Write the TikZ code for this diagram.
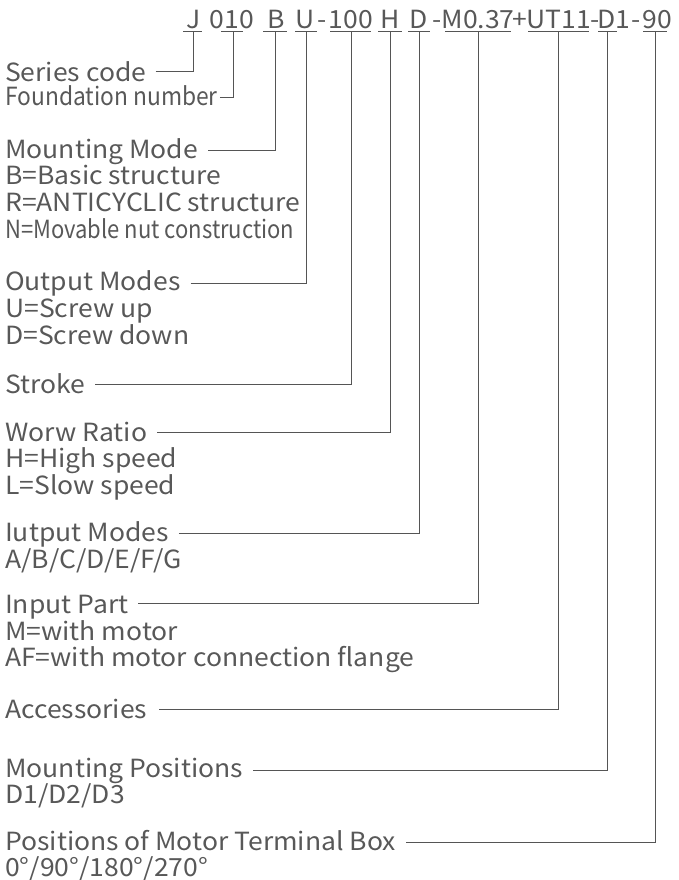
\documentclass[tikz,border=0pt]{standalone}
\usepackage{fontspec}
\setmainfont{Noto Sans CJK SC}[FakeStretch=1.06]
\newfontfamily\condA{Noto Sans CJK SC}[FakeStretch=0.912]
\newfontfamily\condB{Noto Sans CJK SC}[FakeStretch=0.88]
\definecolor{txtc}{RGB}{88,88,88}
\definecolor{linec}{RGB}{85,85,85}
\begin{document}
\begin{tikzpicture}[x=1pt,y=-1pt,
  lbl/.style={anchor=base west, inner sep=0pt, font=\fontsize{25}{25}\selectfont, text=txtc},
  code/.style={anchor=base, inner sep=0pt, font=\fontsize{25}{25}\selectfont, text=txtc},
  conn/.style={draw=linec, line width=1pt},
  uline/.style={draw=linec, line width=1pt}]
\useasboundingbox (0,0) rectangle (679,880);

% code line
\node[code] (kJ) at (194,29) {J};
\node[code] (k010) at (232,29) {010};
\node[code] (kB) at (276,29) {B};
\node[code] (kU) at (305,29) {U};
\node[code] (kd1) at (322,29) {-};
\node[code] (k100) at (351,29) {100};
\node[code] (kH) at (390,29) {H};
\node[code] (kD) at (419,29) {D};
\node[code] (kd2) at (437,29) {-};
\node[code] (kM) at (478,29) {M0.37};
\node[code] (kp) at (520,29) {+};
\node[code] (kUT) at (559,29) {UT11};
\node[code] (kd3) at (595,29) {-};
\node[code] (kD1) at (614,29) {D1};
\node[code] (kd4) at (636,29) {-};
\node[code] (k90) at (657,29) {90};

% underline anchor points
\coordinate (uJ) at (193,32);
\coordinate (u010) at (233,32);
\coordinate (uB) at (275,32);
\coordinate (uU) at (306,32);
\coordinate (u100) at (351,32);
\coordinate (uH) at (390,32);
\coordinate (uD) at (419,32);
\coordinate (uM) at (478,32);
\coordinate (uUT) at (558,32);
\coordinate (uD1) at (607,32);
\coordinate (u90) at (655,32);

\draw[uline] ([xshift=-10]uJ) -- ([xshift=9]uJ);
\draw[uline] ([xshift=-12]u010) -- ([xshift=10]u010);
\draw[uline] ([xshift=-12]uB) -- ([xshift=12]uB);
\draw[uline] ([xshift=-11]uU) -- ([xshift=11]uU);
\draw[uline] ([xshift=-21]u100) -- ([xshift=20]u100);
\draw[uline] ([xshift=-12]uH) -- ([xshift=12]uH);
\draw[uline] ([xshift=-11]uD) -- ([xshift=11]uD);
\draw[uline] ([xshift=-33]uM) -- ([xshift=33]uM);
\draw[uline] ([xshift=-30]uUT) -- ([xshift=31]uUT);
\draw[uline] ([xshift=-9]uD1) -- ([xshift=10]uD1);
\draw[uline] ([xshift=-12]u90) -- ([xshift=12]u90);

% labels
\node[lbl] (ser) at (5,82) {Series code};
\node[lbl] (fnd) at (5,106) {\condA Foundation number};
\node[lbl] (mm) at (5,158) {Mounting Mode};
\node[lbl] (mmb) at (5,184) {B=Basic structure};
\node[lbl] (mmr) at (5,211) {R=ANTICYCLIC structure};
\node[lbl] (mmn) at (5,238) {\condB N=Movable nut construction};
\node[lbl] (om) at (5,290) {Output Modes};
\node[lbl] (omu) at (5,317) {U=Screw up};
\node[lbl] (omd) at (5,344) {D=Screw down};
\node[lbl] (st) at (5,393) {Stroke};
\node[lbl] (wr) at (5,441) {Worw Ratio};
\node[lbl] (wrh) at (5,467) {H=High speed};
\node[lbl] (wrl) at (5,494) {L=Slow speed};
\node[lbl] (im) at (5,541) {Iutput Modes};
\node[lbl] (ima) at (5,568) {A/B/C/D/E/F/G};
\node[lbl] (ip) at (5,613) {Input Part};
\node[lbl] (ipm) at (5,640) {M=with motor};
\node[lbl] (ipa) at (5,666) {AF=with motor connection flange};
\node[lbl] (ac) at (5,718) {Accessories};
\node[lbl] (mp) at (5,777) {Mounting Positions};
\node[lbl] (mpd) at (5,803) {D1/D2/D3};
\node[lbl] (pm) at (5,850) {Positions of Motor Terminal Box};
\node[lbl] (pmd) at (5,876) {0°/90°/180°/270°};

% connectors
\draw[conn] ([shift={(9,-10)}]ser.base east) -| (uJ);
\draw[conn] ([shift={(2,-8)}]fnd.base east) -| (u010);
\draw[conn] ([shift={(10,-8)}]mm.base east) -| (uB);
\draw[conn] ([shift={(10,-7)}]om.base east) -| (uU);
\draw[conn] ([shift={(10,-9)}]st.base east) -| (u100);
\draw[conn] ([shift={(10,-9)}]wr.base east) -| (uH);
\draw[conn] ([shift={(10,-8)}]im.base east) -| (uD);
\draw[conn] ([shift={(10,-10)}]ip.base east) -| (uM);
\draw[conn] ([shift={(12,-9)}]ac.base east) -| (uUT);
\draw[conn] ([shift={(10,-7)}]mp.base east) -| (uD1);
\draw[conn] ([shift={(10,-8)}]pm.base east) -| (u90);
\end{tikzpicture}
\end{document}
